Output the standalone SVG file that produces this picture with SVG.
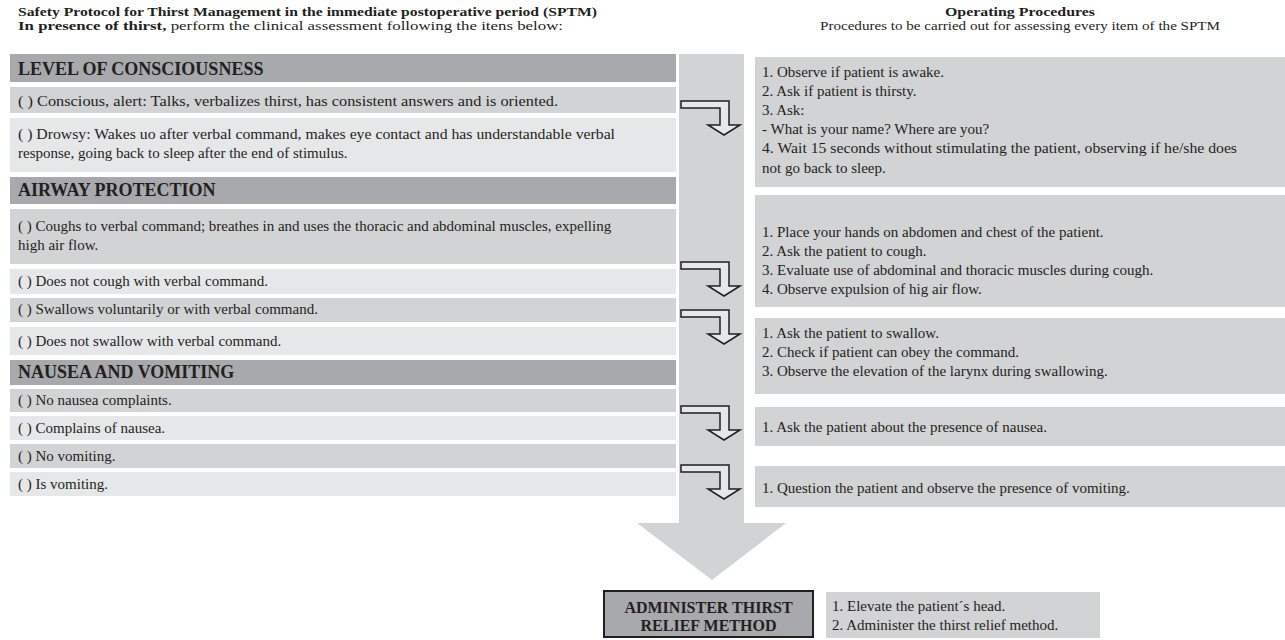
<svg xmlns="http://www.w3.org/2000/svg" width="1285" height="640" viewBox="0 0 1285 640">
<defs>
<style>
.t{font-family:"Liberation Serif","Times New Roman",serif;font-size:15px;fill:#231f20}
.hd{font-size:13px}
.b{font-weight:bold}
.h{font-family:"Liberation Serif","Times New Roman",serif;font-size:18px;font-weight:bold;fill:#231f20}
.dk{fill:#a7a9ac}
.md{fill:#d1d3d4}
.lt{fill:#e6e7e8}
.bent{fill:#e6e7e8;stroke:#231f20;stroke-width:1.5;stroke-linejoin:miter}
</style>
</defs>
<rect width="1285" height="640" fill="#ffffff"/>

<g id="title">
<text class="t hd b" x="18" y="15.5" textLength="579" lengthAdjust="spacingAndGlyphs">Safety Protocol for Thirst Management in the immediate postoperative period (SPTM)</text>
<text class="t hd" x="18" y="30" textLength="545" lengthAdjust="spacingAndGlyphs"><tspan class="b">In presence of thirst,</tspan> perform the clinical assessment following the itens below:</text>
<text class="t hd b" x="1020" y="15.5" text-anchor="middle" textLength="150" lengthAdjust="spacingAndGlyphs">Operating Procedures</text>
<text class="t hd" x="1020" y="30" text-anchor="middle" textLength="400" lengthAdjust="spacingAndGlyphs">Procedures to be carried out for assessing every item of the SPTM</text>
</g>

<g id="main-arrow">
<path d="M679,54 H744 V523 H786 L712,580 L637,523 H679 Z" fill="#d1d3d4"/>
</g>

<g id="level-header"><rect class="dk" x="10" y="54" width="666" height="28"/><text class="h" x="18" y="75">LEVEL OF CONSCIOUSNESS</text></g>
<g id="conscious"><rect class="md" x="10" y="87" width="666" height="26"/><text class="t" x="18" y="106" textLength="540" lengthAdjust="spacingAndGlyphs">( ) Conscious, alert: Talks, verbalizes thirst, has consistent answers and is oriented.</text></g>
<g id="drowsy"><rect class="lt" x="10" y="118" width="666" height="54"/><text class="t" x="18" y="139" textLength="597" lengthAdjust="spacingAndGlyphs">( ) Drowsy: Wakes uo after verbal command, makes eye contact and has understandable verbal</text><text class="t" x="18" y="158">response, going back to sleep after the end of stimulus.</text></g>

<g id="airway-header"><rect class="dk" x="10" y="177" width="666" height="27"/><text class="h" x="18" y="196">AIRWAY PROTECTION</text></g>
<g id="coughs"><rect class="md" x="10" y="209" width="666" height="55"/><text class="t" x="18" y="231">( ) Coughs to verbal command; breathes in and uses the thoracic and abdominal muscles, expelling</text><text class="t" x="18" y="250">high air flow.</text></g>
<g id="no-cough"><rect class="lt" x="10" y="269" width="666" height="25"/><text class="t" x="18" y="286">( ) Does not cough with verbal command.</text></g>
<g id="swallows"><rect class="md" x="10" y="298" width="666" height="24"/><text class="t" x="18" y="314">( ) Swallows voluntarily or with verbal command.</text></g>
<g id="no-swallow"><rect class="lt" x="10" y="327" width="666" height="28"/><text class="t" x="18" y="346">( ) Does not swallow with verbal command.</text></g>

<g id="nausea-header"><rect class="dk" x="10" y="360" width="666" height="25"/><text class="h" x="18" y="378">NAUSEA AND VOMITING</text></g>
<g id="no-nausea"><rect class="md" x="10" y="389" width="666" height="23"/><text class="t" x="18" y="405">( ) No nausea complaints.</text></g>
<g id="nausea"><rect class="lt" x="10" y="416" width="666" height="24"/><text class="t" x="18" y="433">( ) Complains of nausea.</text></g>
<g id="no-vomiting"><rect class="md" x="10" y="444" width="666" height="24"/><text class="t" x="18" y="461">( ) No vomiting.</text></g>
<g id="vomiting"><rect class="lt" x="10" y="472" width="666" height="24"/><text class="t" x="18" y="489">( ) Is vomiting.</text></g>

<g id="proc-consciousness"><rect class="md" x="755" y="57" width="530" height="130"/>
<text class="t" x="762" y="77">1. Observe if patient is awake.</text>
<text class="t" x="762" y="96">2. Ask if patient is thirsty.</text>
<text class="t" x="762" y="115">3. Ask:</text>
<text class="t" x="762" y="134">- What is your name? Where are you?</text>
<text class="t" x="762" y="153" textLength="475" lengthAdjust="spacingAndGlyphs">4. Wait 15 seconds without stimulating the patient, observing if he/she does</text>
<text class="t" x="762" y="173">not go back to sleep.</text></g>
<g id="proc-cough"><rect class="md" x="755" y="195" width="530" height="112"/>
<text class="t" x="762" y="237">1. Place your hands on abdomen and chest of the patient.</text>
<text class="t" x="762" y="256">2. Ask the patient to cough.</text>
<text class="t" x="762" y="275">3. Evaluate use of abdominal and thoracic muscles during cough.</text>
<text class="t" x="762" y="294">4. Observe expulsion of hig air flow.</text></g>
<g id="proc-swallow"><rect class="md" x="755" y="318" width="530" height="76"/>
<text class="t" x="762" y="338">1. Ask the patient to swallow.</text>
<text class="t" x="762" y="357">2. Check if patient can obey the command.</text>
<text class="t" x="762" y="376">3. Observe the elevation of the larynx during swallowing.</text></g>
<g id="proc-nausea"><rect class="md" x="755" y="407" width="530" height="39"/>
<text class="t" x="762" y="432">1. Ask the patient about the presence of nausea.</text></g>
<g id="proc-vomiting"><rect class="md" x="755" y="466" width="530" height="41"/>
<text class="t" x="762" y="493">1. Question the patient and observe the presence of vomiting.</text></g>

<g id="connectors">
<path class="bent" d="M681,101 H729 V125 H740 L724,135 L708,125 H720 V108 H681 Z"/>
<path class="bent" d="M681,262 H729 V286 H740 L724,296 L708,286 H720 V269 H681 Z"/>
<path class="bent" d="M681,310 H729 V334 H740 L724,344 L708,334 H720 V317 H681 Z"/>
<path class="bent" d="M681,406 H729 V430 H740 L724,440 L708,430 H720 V413 H681 Z"/>
<path class="bent" d="M681,465 H729 V489 H740 L724,499 L708,489 H720 V472 H681 Z"/>
</g>

<g id="administer"><rect x="604" y="591" width="209" height="46" fill="#a7a9ac" stroke="#231f20" stroke-width="2"/>
<text class="h" x="708.5" y="613" text-anchor="middle" style="font-size:16px">ADMINISTER THIRST</text>
<text class="h" x="708.5" y="631" text-anchor="middle" style="font-size:16px">RELIEF METHOD</text></g>
<g id="proc-administer"><rect class="md" x="826" y="592" width="274" height="46"/>
<text class="t" x="832" y="611">1. Elevate the patient´s head.</text>
<text class="t" x="832" y="630">2. Administer the thirst relief method.</text></g>
</svg>
